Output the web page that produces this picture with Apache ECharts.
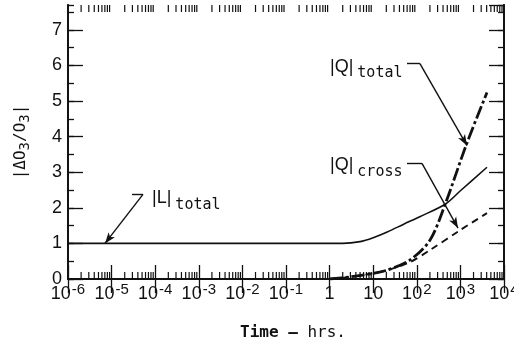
<!DOCTYPE html>
<html lang="en">
<head>
    <meta charset="UTF-8">
    <title>|ΔO3/O3| vs time</title>
    <script src="https://cdn.jsdelivr.net/npm/echarts@6/dist/echarts.min.js"></script>
    <style>
        html, body { margin: 0; padding: 0; background: #fff; }
        #main { width: 514px; height: 344px; }
    </style>
</head>
<body>
<div id="main"></div>
<script type="text/javascript">
    // curve data (time in hrs, value)
    var lTime  = [1e-6, 1e-3, 1, 2, 5, 10, 21, 50, 117, 447, 1000, 4070];
    var lVal   = [1, 1, 1, 1.0, 1.05, 1.16, 1.32, 1.54, 1.75, 2.1, 2.48, 3.14];
    var qtTime = [1, 3, 10, 21, 69, 200, 447, 1400, 4070];
    var qtVal  = [0, 0.06, 0.16, 0.25, 0.53, 1.09, 2.1, 3.81, 5.24];
    var qcTime = [1, 3, 10, 21, 69, 200, 977, 4070];
    var qcVal  = [0, 0.06, 0.16, 0.25, 0.47, 0.81, 1.37, 1.85];

    // axis ranges and ticks
    var xMin = 1e-6, xMax = 1e4;
    var yMin = 0, yMax = 7.7;
    var decades = [-6, -5, -4, -3, -2, -1, 0, 1, 2, 3];
    var minorMult = [2, 3, 4, 5, 6, 7, 8, 9];

    // annotation leaders: [start, corner, arrow tip]
    var lArrow  = [[2.94e-5, 2.38], [5.25e-5, 2.38], [7.06e-6, 1.0]];
    var qtArrow = [[59.6, 6.05], [118, 6.05], [1416, 3.75]];
    var qcArrow = [[59.6, 3.25], [131.6, 3.25], [881, 1.43]];
    // annotation text anchors (left / middle of the text)
    var lLabel  = [8.45e-5, 2.27];
    var qtLabel = [1.02, 5.97];
    var qcLabel = [1.02, 3.19];

    var ink = '#111';
    var minorTicks = [];
    decades.forEach(function (d) {
        minorMult.forEach(function (m) { minorTicks.push([m * Math.pow(10, d), 0]); });
    });

    function pairs(xs, ys) {
        return xs.map(function (x, i) { return [x, ys[i]]; });
    }

    function leader(pts) {
        var ls = {color: ink, width: 1.4, type: 'solid'};
        return {
            silent: true,
            symbolSize: [6, 11],
            label: {show: false},
            lineStyle: ls,
            emphasis: {disabled: true},
            data: [
                [{coord: pts[0], symbol: 'none'}, {coord: pts[1], symbol: 'none'}],
                [{coord: pts[1], symbol: 'none'}, {coord: pts[2], symbol: 'arrow'}]
            ]
        };
    }

    var labelRich = {
        m: {fontFamily: 'Liberation Sans', fontSize: 18, lineHeight: 28, color: ink, verticalAlign: 'middle'},
        s: {fontFamily: 'DejaVu Sans Mono', fontSize: 15, lineHeight: 14, color: ink, verticalAlign: 'bottom', padding: [0, 0, 0, 4]}
    };

    function tag(coord, main, sub) {
        return {
            silent: true,
            symbol: 'rect',
            symbolSize: 0,
            data: [{
                coord: coord,
                label: {
                    show: true,
                    position: [0, 0],
                    align: 'left',
                    verticalAlign: 'middle',
                    formatter: '{m|' + main + '}{s|' + sub + '}',
                    rich: labelRich
                }
            }]
        };
    }

    var myChart = echarts.init(document.getElementById('main'));

    var xBase = {
        type: 'log', logBase: 10, min: xMin, max: xMax, interval: 1, splitNumber: 10,
        axisLine: {show: true, lineStyle: {color: ink, width: 1.8}},
        axisTick: {show: true, inside: true, length: 14, lineStyle: {color: ink, width: 1.3}},
        splitLine: {show: false},
        minorTick: {show: false}
    };
    function yAxisOf(pos, interval, len, labels) {
        return {
            type: 'value', position: pos, min: yMin, max: yMax, interval: interval,
            axisLine: {show: true, onZero: false, lineStyle: {color: ink, width: 1.8}},
            axisTick: {show: true, inside: true, length: len, lineStyle: {color: ink, width: 1.3}},
            axisLabel: labels ? {
                show: true, margin: 6, color: ink, fontFamily: 'Liberation Sans', fontSize: 18,
                showMaxLabel: false,
                formatter: function (v) { return Math.abs(v - Math.round(v)) < 1e-6 ? String(Math.round(v)) : ''; }
            } : {show: false},
            splitLine: {show: false}
        };
    }

    var option = {
        animation: false,
        backgroundColor: '#fff',
        grid: {left: 68, right: 10, top: 5, bottom: 65, containLabel: false, outerBoundsMode: 'none'},
        xAxis: [
            Object.assign({}, xBase, {
                position: 'bottom',
                name: '{b|Time —} hrs.',
                nameLocation: 'middle',
                nameGap: 46,
                nameTextStyle: {
                    color: ink, fontFamily: 'DejaVu Sans Mono', fontSize: 16, padding: [0, 0, 0, 14],
                    rich: {b: {fontFamily: 'DejaVu Sans Mono', fontSize: 16, fontWeight: 'bold', color: ink}}
                },
                axisLabel: {
                    show: true, margin: 3, color: ink, fontFamily: 'Liberation Sans', fontSize: 18, lineHeight: 24,
                    showMinLabel: true, showMaxLabel: true, interval: 0,
                    formatter: function (v) {
                        var e = Math.round(Math.log(v) / Math.LN10);
                        if (e === 0) return '1';
                        if (e === 1) return '10';
                        return '10{sup|' + e + '}';
                    },
                    rich: {
                        sup: {fontFamily: 'Liberation Sans', fontSize: 15, lineHeight: 10, verticalAlign: 'top', color: ink, padding: [0, 0, 0, 1]}
                    }
                }
            }),
            Object.assign({}, xBase, {position: 'top', axisLabel: {show: false}})
        ],
        yAxis: [
            Object.assign(yAxisOf('left', 1, 15, true), {
                name: '|ΔO{s|3}/O{s|3}|',
                nameLocation: 'middle',
                nameRotate: 90,
                nameGap: 36,
                nameTextStyle: {
                    color: ink, fontFamily: 'DejaVu Sans Mono', fontSize: 16, lineHeight: 22,
                    rich: {s: {fontFamily: 'DejaVu Sans Mono', fontSize: 14, lineHeight: 10, verticalAlign: 'bottom', color: ink}}
                }
            }),
            yAxisOf('left', 0.5, 6, false),
            yAxisOf('right', 1, 15, false),
            yAxisOf('right', 0.5, 6, false)
        ],
        series: [
            {
                name: 'L total', type: 'line', data: pairs(lTime, lVal),
                showSymbol: false, smooth: 0.3,
                lineStyle: {color: ink, width: 1.6},
                markLine: leader(lArrow),
                markPoint: tag(lLabel, '|L|', 'total')
            },
            {
                name: 'Q total', type: 'line', data: pairs(qtTime, qtVal),
                showSymbol: false, smooth: 0.3,
                lineStyle: {color: ink, width: 2.8, type: [13, 3, 3, 3]},
                markLine: leader(qtArrow),
                markPoint: tag(qtLabel, '|Q|', 'total')
            },
            {
                name: 'Q cross', type: 'line', data: pairs(qcTime, qcVal),
                showSymbol: false, smooth: 0.3,
                lineStyle: {color: ink, width: 1.9, type: [7, 5]},
                markLine: leader(qcArrow),
                markPoint: tag(qcLabel, '|Q|', 'cross')
            },
            {
                name: 'minor ticks', type: 'custom', silent: true, clip: false,
                data: minorTicks,
                renderItem: function (params, api) {
                    var x = api.value(0);
                    var a = api.coord([x, yMin]);
                    var b = api.coord([x, yMax]);
                    var st = {stroke: ink, lineWidth: 1.2};
                    return {
                        type: 'group',
                        children: [
                            {type: 'line', shape: {x1: a[0], y1: a[1], x2: a[0], y2: a[1] - 7}, style: st},
                            {type: 'line', shape: {x1: b[0], y1: b[1], x2: b[0], y2: b[1] + 7}, style: st}
                        ]
                    };
                }
            }
        ]
    };

    myChart.setOption(option);
</script>
</body>
</html>
